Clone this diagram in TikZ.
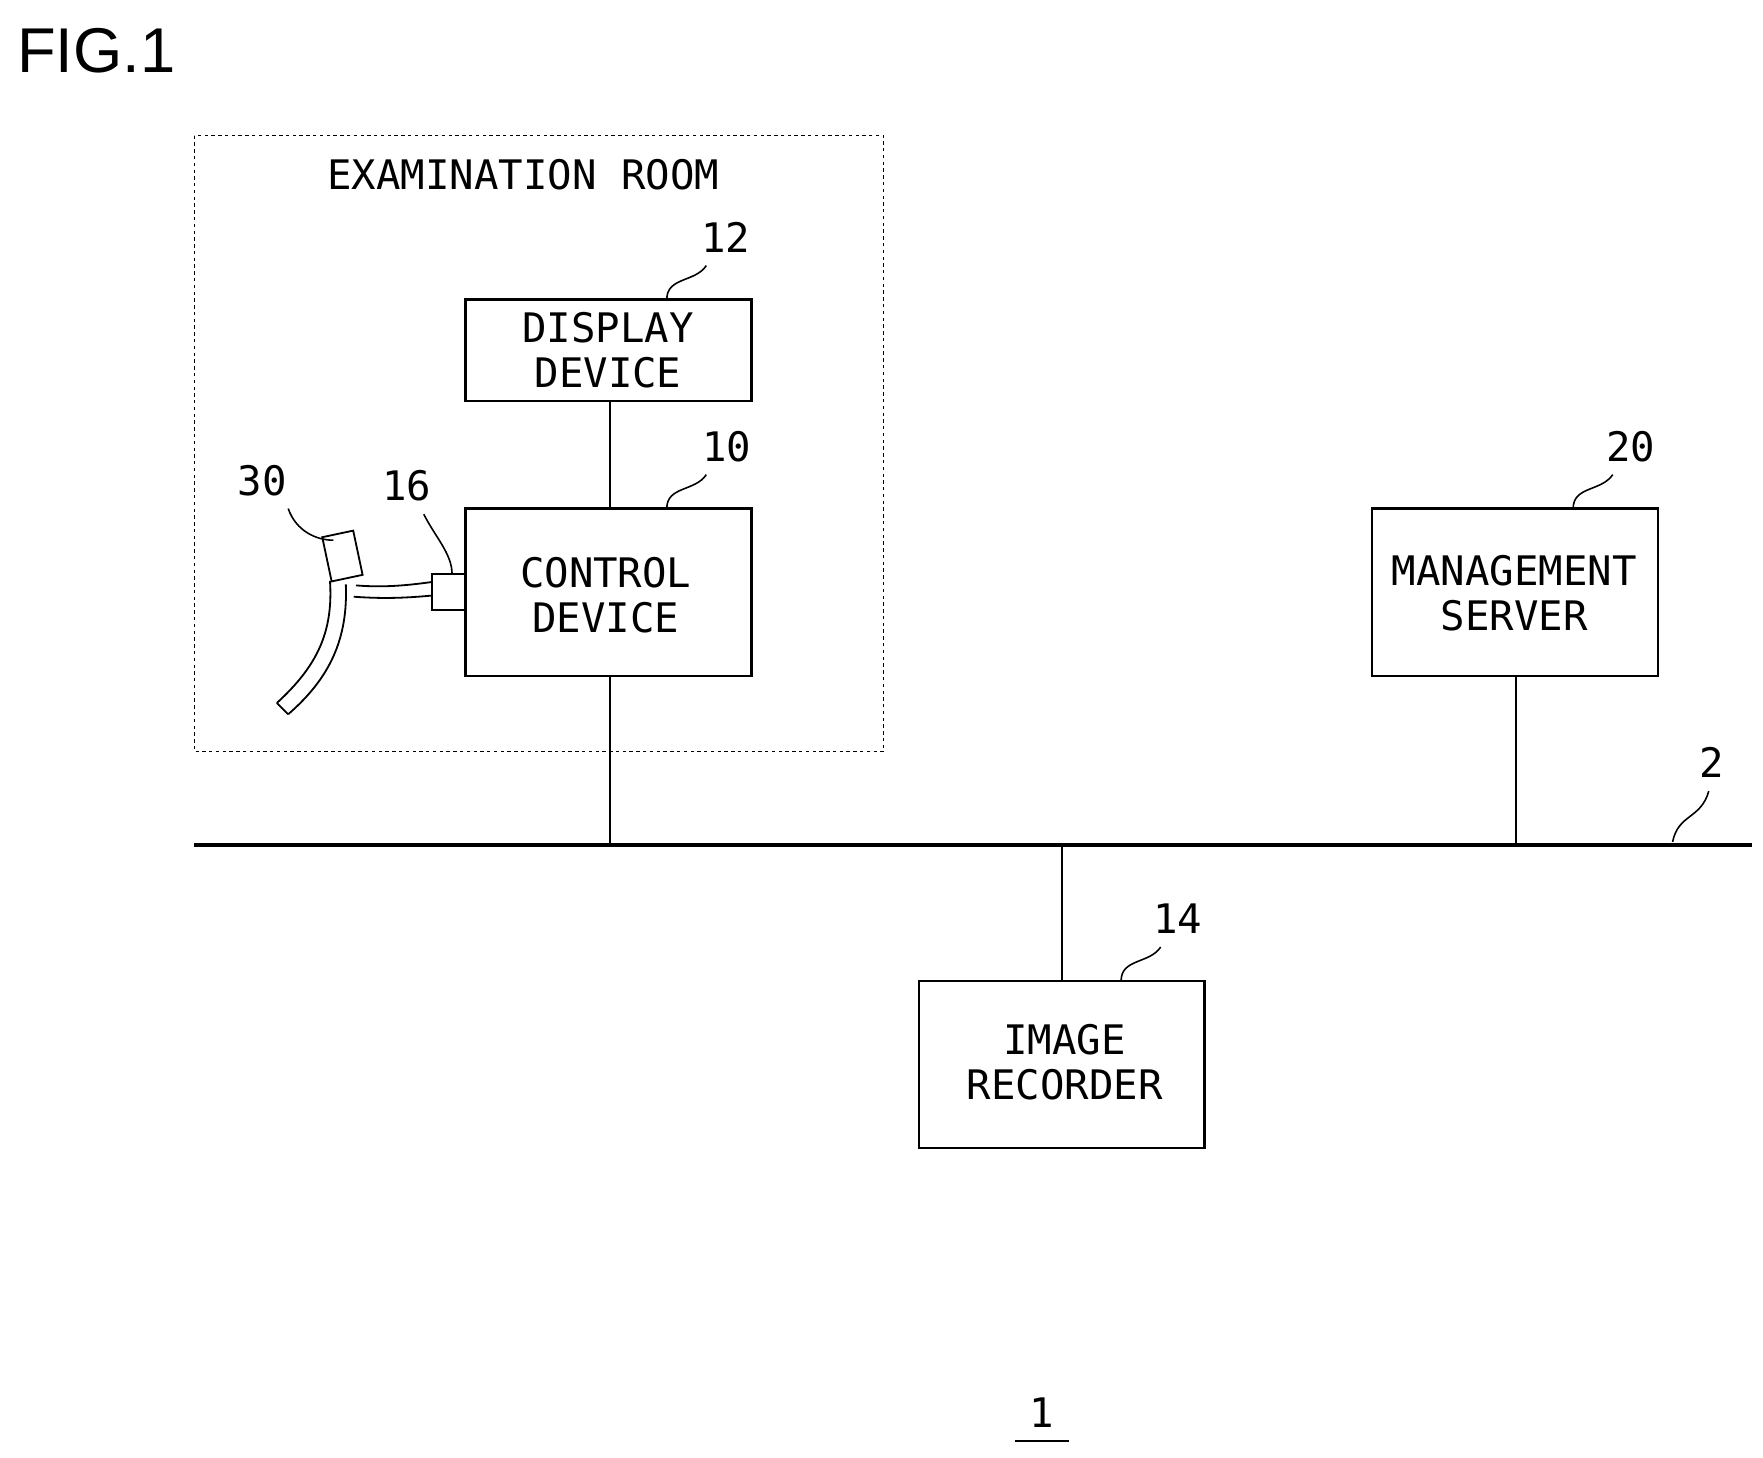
\documentclass[tikz,border=0pt]{standalone}
\usepackage{fontspec}
\setmainfont{DejaVu Sans Mono}
\newfontfamily\figfont{Liberation Sans}
\begin{document}
\begin{tikzpicture}[x=1pt,y=-1pt,
  box/.style={draw,line width=2.2pt},
  txt/.style={font=\fontsize{36}{40}\selectfont,align=center,inner sep=0},
  num/.style={font=\fontsize{36}{40}\selectfont,inner sep=0},
  conn/.style={line width=1.8pt},
  lead/.style={line width=1.4pt}]
\useasboundingbox (0,0) rectangle (1560,1290);
\node[font=\figfont\fontsize{56}{60}\selectfont,anchor=west,inner sep=0] (fig) at (15,45) {FIG.1};
\draw[dashed,line width=1pt] (172,120) rectangle (782,665);
\node[txt] (room) at (463,155) {EXAMINATION ROOM};
\draw[box] (412,265) rectangle (665,355);
\node[txt] (disp) at (538,310) {DISPLAY\\DEVICE};
\coordinate (dispB) at (540,355);
\draw[box] (412,450) rectangle (665,598);
\node[txt] (ctrl) at (536,527) {CONTROL\\DEVICE};
\coordinate (ctrlT) at (540,450);
\coordinate (ctrlB) at (540,598);
\draw[box] (1214,450) rectangle (1467,598);
\node[txt] (mgmt) at (1340,525) {MANAGEMENT\\SERVER};
\coordinate (mgmtB) at (1341,598);
\draw[box] (813,868) rectangle (1066,1016);
\node[txt] (rec) at (942,940) {IMAGE\\RECORDER};
\coordinate (recT) at (940,868);
\coordinate (busL) at (172,748);
\coordinate (busR) at (1550,748);
\draw[line width=3.5pt] (busL) -- (busR);
\coordinate (b1) at (540,748);
\coordinate (b2) at (1341,748);
\coordinate (b3) at (940,748);
\draw[conn] (dispB) -- (ctrlT);
\draw[conn] (ctrlB) -- (b1);
\draw[conn] (mgmtB) -- (b2);
\draw[conn] (b3) -- (recT);
% connector 16
\draw[box,line width=1.6pt] (382,508) rectangle (412,540) coordinate (c16);
% endoscope
\draw[line width=1.6pt,rotate around={12:(303,492)}] (289,472) rectangle (317,512);
\draw[line width=1.6pt] (315,518) .. controls (340,520) and (360,518) .. (382,515);
\draw[line width=1.6pt] (313,528) .. controls (340,530) and (360,529) .. (382,527);
\draw[line width=1.6pt] (292,514) .. controls (295,560) and (280,590) .. (245,622);
\draw[line width=1.6pt] (306,517) .. controls (308,565) and (292,600) .. (255,632);
\draw[line width=1.6pt] (245,622) -- (255,632);
% labels
\node[num] (n12) at (642,210) {12};
\node[num] (n10) at (643,395) {10};
\node[num] (n20) at (1443,395) {20};
\node[num] (n2) at (1515,675) {2};
\node[num] (n14) at (1042,813) {14};
\node[num] (n16) at (360,430) {16};
\node[num] (n30) at (232,425) {30};
\node[num] (n1) at (922,1250) {1};
\draw[line width=2pt] (898,1275) -- (946,1275);
\draw[lead] (590,265) .. controls (590,245) and (615,250) .. (625,235);
\draw[lead] (590,450) .. controls (590,430) and (615,435) .. (625,420);
\draw[lead] (1392,450) .. controls (1392,430) and (1417,435) .. (1427,420);
\draw[lead] (992,868) .. controls (992,848) and (1017,853) .. (1027,838);
\draw[lead] (1480,745) .. controls (1485,720) and (1505,725) .. (1512,700);
\draw[lead] (400,508) .. controls (400,490) and (385,475) .. (375,455);
\draw[lead] (295,478) .. controls (280,478) and (262,470) .. (255,450);
\end{tikzpicture}
\end{document}
